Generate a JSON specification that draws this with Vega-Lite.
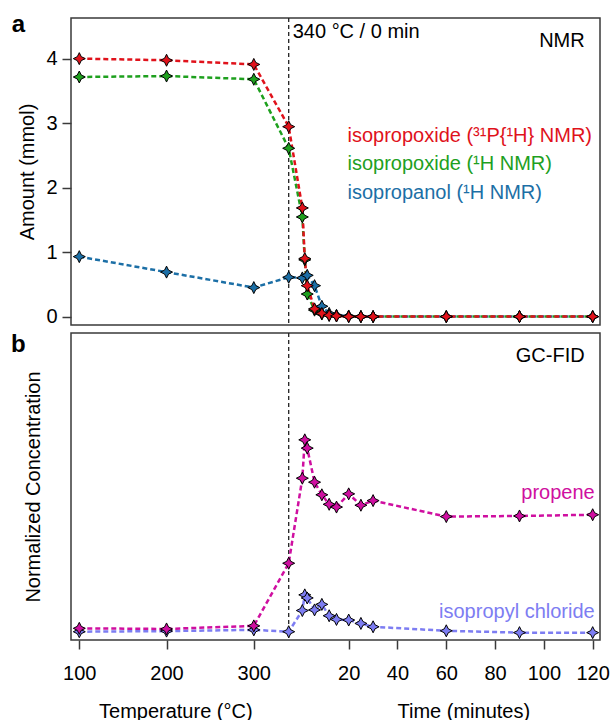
{
  "$schema": "https://vega.github.io/schema/vega-lite/v6.json",
  "background": "white",
  "padding": {"left": 10, "top": 11, "right": 0, "bottom": 0},
  "spacing": 3,
  "resolve": {"scale": {"color": "independent", "fill": "independent"}},
  "config": {
    "font": "Liberation Sans",
    "view": {"stroke": "#3a3a3a", "strokeWidth": 1.5},
    "axis": {"grid": false, "domain": false, "tickColor": "#3a3a3a", "tickWidth": 1.5, "tickSize": 9, "labelFontSize": 20, "titleFontSize": 20, "titleFontWeight": "normal", "labelColor": "#000", "titleColor": "#000", "labelFont": "Liberation Sans", "titleFont": "Liberation Sans"},
    "text": {"font": "Liberation Sans"}
  },
  "datasets": {
    "nmr": [
      {"series": "isopropanol", "stage": "ramp", "temperature": 100, "amount": 0.93},
      {"series": "isopropanol", "stage": "ramp", "temperature": 200, "amount": 0.69},
      {"series": "isopropanol", "stage": "ramp", "temperature": 300, "amount": 0.45},
      {"series": "isopropanol", "stage": "ramp", "temperature": 340, "amount": 0.61},
      {"series": "isopropanol", "stage": "hold", "time": 1, "amount": 0.6},
      {"series": "isopropanol", "stage": "hold", "time": 3, "amount": 0.64},
      {"series": "isopropanol", "stage": "hold", "time": 6, "amount": 0.48},
      {"series": "isopropanol", "stage": "hold", "time": 9, "amount": 0.16},
      {"series": "isopropanol", "stage": "hold", "time": 12, "amount": 0.05},
      {"series": "isopropanol", "stage": "hold", "time": 15, "amount": 0.02},
      {"series": "isopropanol", "stage": "hold", "time": 20, "amount": 0.01},
      {"series": "isopropanol", "stage": "hold", "time": 25, "amount": 0.0},
      {"series": "isopropanol", "stage": "hold", "time": 30, "amount": 0.0},
      {"series": "isopropanol", "stage": "hold", "time": 60, "amount": 0.0},
      {"series": "isopropanol", "stage": "hold", "time": 90, "amount": 0.0},
      {"series": "isopropanol", "stage": "hold", "time": 120, "amount": 0.0},
      {"series": "isopropoxide_1H", "stage": "ramp", "temperature": 100, "amount": 3.715},
      {"series": "isopropoxide_1H", "stage": "ramp", "temperature": 200, "amount": 3.73},
      {"series": "isopropoxide_1H", "stage": "ramp", "temperature": 300, "amount": 3.68},
      {"series": "isopropoxide_1H", "stage": "ramp", "temperature": 340, "amount": 2.61},
      {"series": "isopropoxide_1H", "stage": "hold", "time": 1, "amount": 1.545},
      {"series": "isopropoxide_1H", "stage": "hold", "time": 2, "amount": 0.88},
      {"series": "isopropoxide_1H", "stage": "hold", "time": 3, "amount": 0.35},
      {"series": "isopropoxide_1H", "stage": "hold", "time": 6, "amount": 0.1},
      {"series": "isopropoxide_1H", "stage": "hold", "time": 9, "amount": 0.04},
      {"series": "isopropoxide_1H", "stage": "hold", "time": 12, "amount": 0.02},
      {"series": "isopropoxide_1H", "stage": "hold", "time": 15, "amount": 0.01},
      {"series": "isopropoxide_1H", "stage": "hold", "time": 20, "amount": 0.0},
      {"series": "isopropoxide_1H", "stage": "hold", "time": 25, "amount": 0.0},
      {"series": "isopropoxide_1H", "stage": "hold", "time": 30, "amount": 0.0},
      {"series": "isopropoxide_1H", "stage": "hold", "time": 60, "amount": 0.0},
      {"series": "isopropoxide_1H", "stage": "hold", "time": 90, "amount": 0.0},
      {"series": "isopropoxide_1H", "stage": "hold", "time": 120, "amount": 0.0},
      {"series": "isopropoxide_31P", "stage": "ramp", "temperature": 100, "amount": 4.0},
      {"series": "isopropoxide_31P", "stage": "ramp", "temperature": 200, "amount": 3.975},
      {"series": "isopropoxide_31P", "stage": "ramp", "temperature": 300, "amount": 3.91},
      {"series": "isopropoxide_31P", "stage": "ramp", "temperature": 340, "amount": 2.945},
      {"series": "isopropoxide_31P", "stage": "hold", "time": 1, "amount": 1.685},
      {"series": "isopropoxide_31P", "stage": "hold", "time": 2, "amount": 0.9},
      {"series": "isopropoxide_31P", "stage": "hold", "time": 3, "amount": 0.48},
      {"series": "isopropoxide_31P", "stage": "hold", "time": 6, "amount": 0.12},
      {"series": "isopropoxide_31P", "stage": "hold", "time": 9, "amount": 0.05},
      {"series": "isopropoxide_31P", "stage": "hold", "time": 12, "amount": 0.02},
      {"series": "isopropoxide_31P", "stage": "hold", "time": 15, "amount": 0.01},
      {"series": "isopropoxide_31P", "stage": "hold", "time": 20, "amount": 0.0},
      {"series": "isopropoxide_31P", "stage": "hold", "time": 25, "amount": 0.0},
      {"series": "isopropoxide_31P", "stage": "hold", "time": 30, "amount": 0.0},
      {"series": "isopropoxide_31P", "stage": "hold", "time": 60, "amount": 0.0},
      {"series": "isopropoxide_31P", "stage": "hold", "time": 90, "amount": 0.0},
      {"series": "isopropoxide_31P", "stage": "hold", "time": 120, "amount": 0.0}
    ],
    "gc": [
      {"series": "isopropyl chloride", "stage": "ramp", "temperature": 100, "value": 0.027},
      {"series": "isopropyl chloride", "stage": "ramp", "temperature": 200, "value": 0.029},
      {"series": "isopropyl chloride", "stage": "ramp", "temperature": 300, "value": 0.033},
      {"series": "isopropyl chloride", "stage": "ramp", "temperature": 340, "value": 0.027},
      {"series": "isopropyl chloride", "stage": "hold", "time": 1, "value": 0.096},
      {"series": "isopropyl chloride", "stage": "hold", "time": 2, "value": 0.147},
      {"series": "isopropyl chloride", "stage": "hold", "time": 3, "value": 0.137},
      {"series": "isopropyl chloride", "stage": "hold", "time": 6, "value": 0.098},
      {"series": "isopropyl chloride", "stage": "hold", "time": 9, "value": 0.116},
      {"series": "isopropyl chloride", "stage": "hold", "time": 12, "value": 0.079},
      {"series": "isopropyl chloride", "stage": "hold", "time": 15, "value": 0.067},
      {"series": "isopropyl chloride", "stage": "hold", "time": 20, "value": 0.065},
      {"series": "isopropyl chloride", "stage": "hold", "time": 25, "value": 0.054},
      {"series": "isopropyl chloride", "stage": "hold", "time": 30, "value": 0.043},
      {"series": "isopropyl chloride", "stage": "hold", "time": 60, "value": 0.03},
      {"series": "isopropyl chloride", "stage": "hold", "time": 90, "value": 0.024},
      {"series": "isopropyl chloride", "stage": "hold", "time": 120, "value": 0.024},
      {"series": "propene", "stage": "ramp", "temperature": 100, "value": 0.038},
      {"series": "propene", "stage": "ramp", "temperature": 200, "value": 0.036},
      {"series": "propene", "stage": "ramp", "temperature": 300, "value": 0.046},
      {"series": "propene", "stage": "ramp", "temperature": 340, "value": 0.25},
      {"series": "propene", "stage": "hold", "time": 1, "value": 0.527},
      {"series": "propene", "stage": "hold", "time": 2, "value": 0.652},
      {"series": "propene", "stage": "hold", "time": 3, "value": 0.625},
      {"series": "propene", "stage": "hold", "time": 6, "value": 0.514},
      {"series": "propene", "stage": "hold", "time": 9, "value": 0.473},
      {"series": "propene", "stage": "hold", "time": 12, "value": 0.442},
      {"series": "propene", "stage": "hold", "time": 15, "value": 0.433},
      {"series": "propene", "stage": "hold", "time": 20, "value": 0.476},
      {"series": "propene", "stage": "hold", "time": 25, "value": 0.439},
      {"series": "propene", "stage": "hold", "time": 30, "value": 0.454},
      {"series": "propene", "stage": "hold", "time": 60, "value": 0.402},
      {"series": "propene", "stage": "hold", "time": 90, "value": 0.404},
      {"series": "propene", "stage": "hold", "time": 120, "value": 0.408}
    ],
    "event": [{"temperature": 340, "label": "340 °C / 0 min"}],
    "note": [{"id": 1}]
  },
  "vconcat": [
    {
      "width": 529,
      "height": 307,
      "layer": [
        {
          "data": {"name": "event"},
          "mark": {"type": "rule", "strokeDash": [4, 3], "color": "#222", "strokeWidth": 1.3},
          "encoding": {"x": {"field": "temperature", "type": "quantitative", "scale": {"type": "linear", "domain": [90.5, 340, 1000, 1123], "range": [0, 217.7, 228.9, 529], "zero": false, "nice": false}, "axis": null}}
        },
        {
          "data": {"name": "event"},
          "mark": {"type": "text", "align": "left", "baseline": "middle", "dx": 4, "fontSize": 20, "color": "#000"},
          "encoding": {
            "x": {"field": "temperature", "type": "quantitative", "axis": null},
            "y": {"datum": 4.41, "type": "quantitative"},
            "text": {"field": "label"}
          }
        },
        {
          "data": {"name": "nmr"},
          "transform": [{"calculate": "datum.stage === 'hold' ? 1000 + datum.time : datum.temperature", "as": "x"}],
          "mark": {"type": "line", "strokeDash": [5, 3], "strokeWidth": 2.5},
          "encoding": {
            "x": {"field": "x", "type": "quantitative", "axis": null},
            "y": {"field": "amount", "type": "quantitative", "scale": {"domain": [-0.13, 4.63], "nice": false, "zero": false}, "axis": {"values": [0, 1, 2, 3, 4], "format": "d", "title": "Amount (mmol)", "labelPadding": 5, "titlePadding": 8}},
            "color": {"field": "series", "type": "nominal", "scale": {"domain": ["isopropanol", "isopropoxide_1H", "isopropoxide_31P"], "range": ["#1c6fa6", "#1ea01e", "#e0121b"]}, "legend": null}
          }
        },
        {
          "data": {"name": "nmr"},
          "transform": [{"calculate": "datum.stage === 'hold' ? 1000 + datum.time : datum.temperature", "as": "x"}],
          "mark": {"type": "point", "shape": "M0,-1L0.33,-0.33L1,0L0.33,0.33L0,1L-0.33,0.33L-1,0L-0.33,-0.33Z", "filled": true, "stroke": "#000", "strokeWidth": 1, "size": 144, "opacity": 1},
          "encoding": {
            "x": {"field": "x", "type": "quantitative", "axis": null},
            "y": {"field": "amount", "type": "quantitative"},
            "fill": {"field": "series", "type": "nominal", "scale": {"domain": ["isopropanol", "isopropoxide_1H", "isopropoxide_31P"], "range": ["#1c6fa6", "#1ea01e", "#e0121b"]}, "legend": null}
          }
        },
        {
          "data": {"name": "note"},
          "mark": {"type": "text", "align": "center", "baseline": "alphabetic", "fontSize": 24, "fontWeight": "bold", "color": "#000", "text": "a"},
          "encoding": {"x": {"datum": 30.1, "type": "quantitative", "axis": null}, "y": {"datum": 4.42, "type": "quantitative"}}
        },
        {
          "data": {"name": "note"},
          "mark": {"type": "text", "align": "right", "baseline": "middle", "dx": -8, "fontSize": 20, "color": "#000", "text": "NMR"},
          "encoding": {"x": {"datum": 1120, "type": "quantitative", "axis": null}, "y": {"datum": 4.27, "type": "quantitative"}}
        },
        {
          "data": {"name": "note"},
          "mark": {"type": "text", "align": "left", "baseline": "middle", "fontSize": 20, "color": "#e0121b", "text": "isopropoxide (³¹P{¹H} NMR)"},
          "encoding": {"x": {"datum": 1019.5, "type": "quantitative", "axis": null}, "y": {"datum": 2.8, "type": "quantitative"}}
        },
        {
          "data": {"name": "note"},
          "mark": {"type": "text", "align": "left", "baseline": "middle", "fontSize": 20, "color": "#1ea01e", "text": "isopropoxide (¹H NMR)"},
          "encoding": {"x": {"datum": 1019.5, "type": "quantitative", "axis": null}, "y": {"datum": 2.36, "type": "quantitative"}}
        },
        {
          "data": {"name": "note"},
          "mark": {"type": "text", "align": "left", "baseline": "middle", "fontSize": 20, "color": "#1c6fa6", "text": "isopropanol (¹H NMR)"},
          "encoding": {"x": {"datum": 1019.5, "type": "quantitative", "axis": null}, "y": {"datum": 1.92, "type": "quantitative"}}
        }
      ]
    },
    {
      "width": 529,
      "height": 307,
      "resolve": {"axis": {"x": "independent"}},
      "layer": [
        {
          "data": {"name": "event"},
          "mark": {"type": "rule", "strokeDash": [4, 3], "color": "#222", "strokeWidth": 1.3},
          "encoding": {"x": {"field": "temperature", "type": "quantitative", "scale": {"type": "linear", "domain": [90.5, 340, 1000, 1123], "range": [0, 217.7, 228.9, 529], "zero": false, "nice": false}, "axis": {"orient": "bottom", "values": [100, 200, 300], "title": "Temperature (°C)", "titleX": 104.3, "labelPadding": 14, "titlePadding": 18, "labelFlush": false}}}
        },
        {
          "data": {"name": "gc"},
          "transform": [{"calculate": "datum.stage === 'hold' ? 1000 + datum.time : datum.temperature", "as": "x"}],
          "mark": {"type": "line", "strokeDash": [5, 3], "strokeWidth": 2.5},
          "encoding": {
            "x": {"field": "x", "type": "quantitative", "axis": {"orient": "bottom", "values": [1020, 1040, 1060, 1080, 1100, 1120], "labelExpr": "format(datum.value - 1000, 'd')", "title": "Time (minutes)", "titleX": 392.3, "labelPadding": 14, "titlePadding": 18, "labelFlush": false}},
            "y": {"field": "value", "type": "quantitative", "scale": {"domain": [0, 1], "nice": false, "zero": false}, "axis": {"ticks": false, "labels": false, "title": "Normalized Concentration", "titlePadding": 27.5}},
            "color": {"field": "series", "type": "nominal", "scale": {"domain": ["isopropyl chloride", "propene"], "range": ["#7d7df2", "#cf0fa0"]}, "legend": null}
          }
        },
        {
          "data": {"name": "gc"},
          "transform": [{"calculate": "datum.stage === 'hold' ? 1000 + datum.time : datum.temperature", "as": "x"}],
          "mark": {"type": "point", "shape": "M0,-1L0.33,-0.33L1,0L0.33,0.33L0,1L-0.33,0.33L-1,0L-0.33,-0.33Z", "filled": true, "stroke": "#000", "strokeWidth": 1, "size": 144, "opacity": 1},
          "encoding": {
            "x": {"field": "x", "type": "quantitative", "axis": null},
            "y": {"field": "value", "type": "quantitative"},
            "fill": {"field": "series", "type": "nominal", "scale": {"domain": ["isopropyl chloride", "propene"], "range": ["#7d7df2", "#cf0fa0"]}, "legend": null}
          }
        },
        {
          "data": {"name": "note"},
          "mark": {"type": "text", "align": "center", "baseline": "alphabetic", "fontSize": 24, "fontWeight": "bold", "color": "#000", "text": "b"},
          "encoding": {"x": {"datum": 30.1, "type": "quantitative", "axis": null}, "y": {"datum": 0.939, "type": "quantitative"}}
        },
        {
          "data": {"name": "note"},
          "mark": {"type": "text", "align": "right", "baseline": "middle", "dx": -8, "fontSize": 20, "color": "#000", "text": "GC-FID"},
          "encoding": {"x": {"datum": 1120, "type": "quantitative", "axis": null}, "y": {"datum": 0.926, "type": "quantitative"}}
        },
        {
          "data": {"name": "note"},
          "mark": {"type": "text", "align": "right", "baseline": "middle", "dx": 2, "fontSize": 20, "color": "#cf0fa0", "text": "propene"},
          "encoding": {"x": {"datum": 1120, "type": "quantitative", "axis": null}, "y": {"datum": 0.479, "type": "quantitative"}}
        },
        {
          "data": {"name": "note"},
          "mark": {"type": "text", "align": "right", "baseline": "middle", "dx": 2, "fontSize": 20, "color": "#7d7df2", "text": "isopropyl chloride"},
          "encoding": {"x": {"datum": 1120, "type": "quantitative", "axis": null}, "y": {"datum": 0.092, "type": "quantitative"}}
        }
      ]
    }
  ]
}
